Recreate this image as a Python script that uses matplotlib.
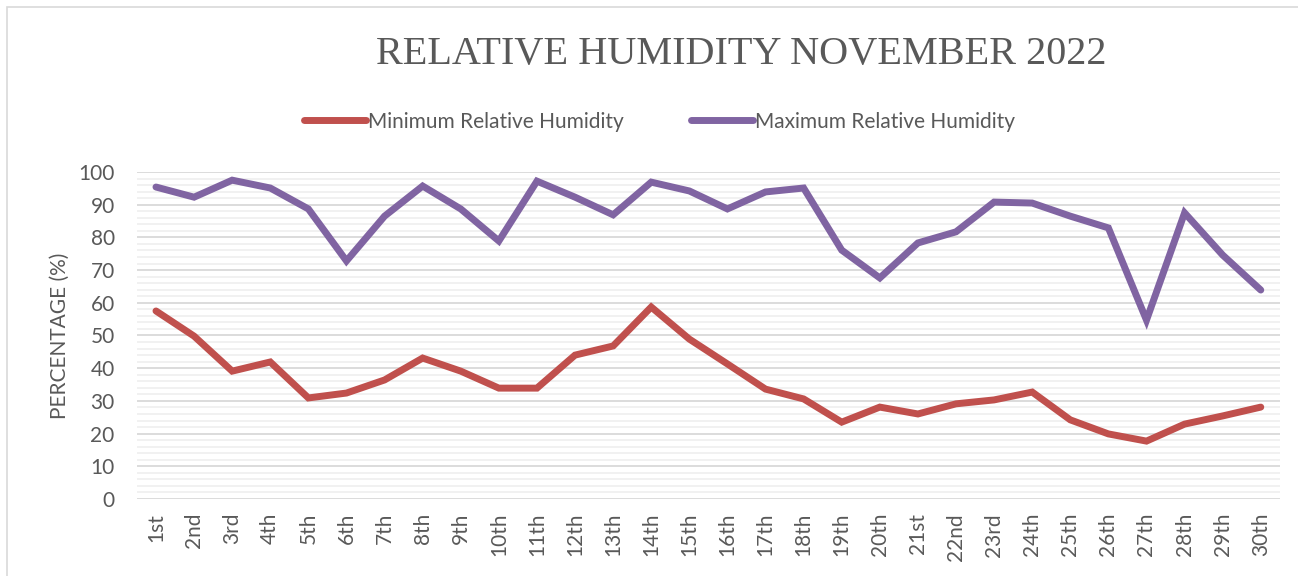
import matplotlib.pyplot as plt
from matplotlib.patches import Rectangle

# ---------------- data ----------------
days = ['1st', '2nd', '3rd', '4th', '5th', '6th', '7th', '8th', '9th', '10th',
        '11th', '12th', '13th', '14th', '15th', '16th', '17th', '18th', '19th', '20th',
        '21st', '22nd', '23rd', '24th', '25th', '26th', '27th', '28th', '29th', '30th']
rh_min = [57.5, 49.8, 39.1, 41.9, 30.9, 32.4, 36.4, 43.1, 39.1, 33.9,
          33.9, 44.0, 46.8, 58.7, 48.9, 41.3, 33.6, 30.6, 23.5, 28.1,
          26.0, 29.1, 30.3, 32.7, 24.2, 19.9, 17.7, 22.9, 25.4, 28.1]
rh_max = [95.4, 92.3, 97.5, 95.1, 88.7, 72.8, 86.5, 95.7, 88.7, 78.9,
          97.2, 92.3, 86.9, 96.9, 94.2, 88.7, 93.9, 95.1, 76.1, 67.6,
          78.3, 81.7, 90.8, 90.5, 86.5, 82.9, 54.7, 87.5, 74.6, 63.9]

txt = '#595959'
plt.rcParams['font.family'] = ['Lato', 'DejaVu Sans']

fig = plt.figure(figsize=(12.98, 5.76), dpi=100)
ax = fig.add_axes([0.1055, 0.1337, 0.8805, 0.5677])

# chart border
fig.patches.append(Rectangle((7/1298, -0.01), 1.02, 1 - 7/576 + 0.01, transform=fig.transFigure,
                             fill=False, edgecolor='#D9D9D9', linewidth=1.2))

x = list(range(1, len(days) + 1))
ax.plot(x, rh_min, color='#C0504D', lw=5, solid_capstyle='round', solid_joinstyle='miter',
        label='Minimum Relative Humidity', zorder=3)
ax.plot(x, rh_max, color='#8064A2', lw=5, solid_capstyle='round', solid_joinstyle='miter',
        label='Maximum Relative Humidity', zorder=3)

ax.set_xlim(0.5, 30.5)
ax.set_ylim(0, 100)
ax.set_xticks(x)
ax.set_xticklabels(days, rotation=90, fontsize=15, color=txt)
ax.set_yticks(range(0, 101, 10))
ax.set_yticks(range(0, 101, 2), minor=True)
ax.tick_params(axis='y', labelsize=15, labelcolor=txt, length=0, pad=16)
ax.tick_params(axis='x', length=0, pad=10)
ax.tick_params(which='minor', length=0)
ax.grid(True, which='major', axis='y', color='#D9D9D9', lw=1.3, zorder=1)
ax.grid(True, which='minor', axis='y', color='#F0F0F0', lw=1.3, zorder=0)
for s in ax.spines.values():
    s.set_visible(False)

ax.set_ylabel('PERCENTAGE (%)', fontsize=15, color=txt, labelpad=6)

fig.text(0.571, 0.905, 'RELATIVE HUMIDITY NOVEMBER 2022', ha='center', va='center',
         fontsize=29, color=txt, family='Liberation Serif')

leg = fig.legend(loc='center', bbox_to_anchor=(0.508, 0.789), ncol=2, frameon=False,
                 fontsize=15, handlelength=3.0, handletextpad=0.1, columnspacing=3.2)
for t in leg.get_texts():
    t.set_color(txt)

plt.savefig('out.png', dpi=100)
